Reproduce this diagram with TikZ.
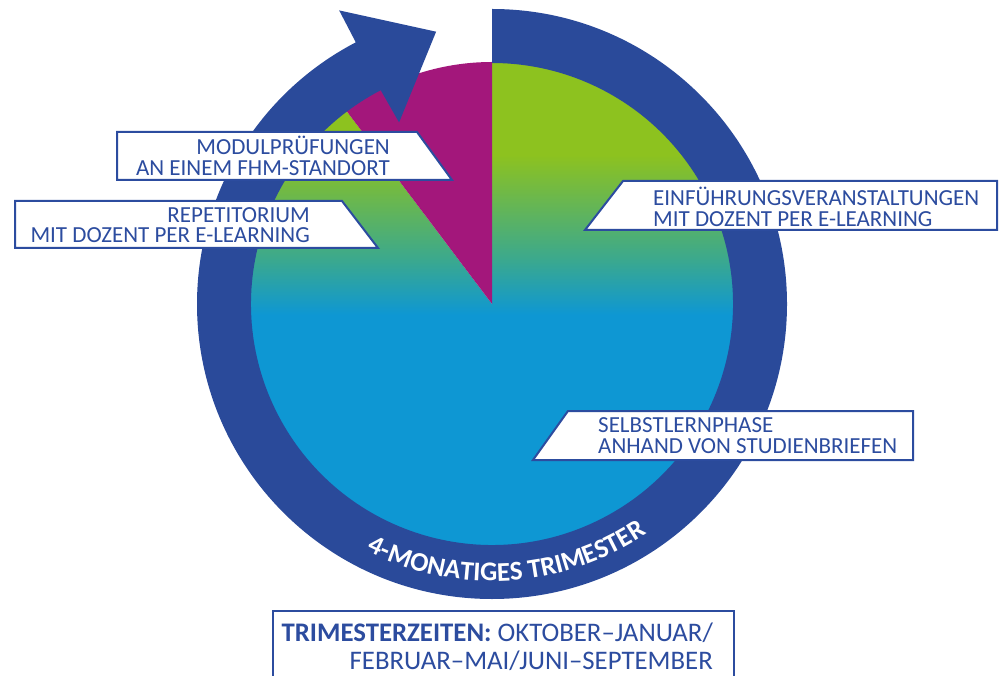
\documentclass[tikz,border=0pt]{standalone}
\usepackage{fontspec}
\setmainfont{Carlito}
\usetikzlibrary{decorations.text}
\definecolor{ringblue}{HTML}{2A4A9A}
\definecolor{txtblue}{HTML}{2C4C9F}
\definecolor{pblue}{HTML}{0E97D3}
\definecolor{pgreen}{HTML}{8DC21F}
\definecolor{pteal}{HTML}{3CA98C}
\definecolor{pmag}{HTML}{A3177B}
\pgfdeclareverticalshading{pieshade}{100bp}{color(0bp)=(pblue); color(50.5bp)=(pblue); color(56bp)=(pteal); color(66bp)=(pgreen); color(100bp)=(pgreen)}
\newcommand\ringfnt{\fontsize{27}{27}\selectfont\bfseries}
\tikzset{
  lblbox/.style={fill=white, draw=txtblue, line width=2pt, line join=miter},
  lbl/.style={text=txtblue, font=\fontsize{23}{20.5}\selectfont, inner sep=0pt},
}
\begin{document}
\begin{tikzpicture}[x=1pt,y=1pt]
\useasboundingbox (0,0) rectangle (1000,675);
\coordinate (C) at (492,371);
% pie
\shade[shading=pieshade] (C) -- ++(127:242) arc[start angle=127,end angle=450,radius=242] -- cycle;
\fill[pmag] (C) -- ++(90:242) arc[start angle=90,end angle=127,radius=242] -- cycle;
% ring with arrow
\fill[ringblue] ([shift={(90:295)}]C) arc[start angle=90,end angle=-242.5,radius=295]
  -- ([shift={(117.5:331)}]C) -- ([shift={(101.6:278)}]C) -- ([shift={(117.1:204)}]C)
  -- ([shift={(117.5:241)}]C) arc[start angle=117.5,end angle=450,radius=241] -- cycle;
% ring text
\path[shift={(C)}, decorate, decoration={text along path, text={|\ringfnt|4-MONATIGES TRIMESTER}, text align=center, text color=white}]
  (-131:277) arc[start angle=-131,end angle=-42,radius=277];
% label boxes
\draw[lblbox] (117,543) -- (417,543) -- (452,495) -- (117,495) -- cycle;
\draw[lblbox] (15,474) -- (342,474) -- (378,427) -- (15,427) -- cycle;
\draw[lblbox] (623,494) -- (997,494) -- (997,445) -- (585,445) -- cycle;
\draw[lblbox] (568,264) -- (913,264) -- (913,215) -- (533,215) -- cycle;
\node[lbl, align=right, anchor=east] (mod) at (390,519) {MODULPRÜFUNGEN\\AN EINEM FHM-STANDORT};
\node[lbl, align=right, anchor=east] (rep) at (310,450) {REPETITORIUM\\MIT DOZENT PER E-LEARNING};
\node[lbl, align=left, anchor=west] (ein) at (653,468) {EINFÜHRUNGSVERANSTALTUNGEN\\MIT DOZENT PER E-LEARNING};
\node[lbl, align=left, anchor=west] (sel) at (598,239.5) {SELBSTLERNPHASE\\ANHAND VON STUDIENBRIEFEN};
% bottom box
\draw[lblbox, fill=none] (273,-5) -- (273,64) -- (734,64) -- (734,-5);
\node[lbl, font=\fontsize{26.8}{28}\selectfont, align=right, anchor=east] (tri) at (713,28.5) {\textbf{TRIMESTERZEITEN:} OKTOBER–JANUAR/\\FEBRUAR–MAI/JUNI–SEPTEMBER};
\end{tikzpicture}
\end{document}
